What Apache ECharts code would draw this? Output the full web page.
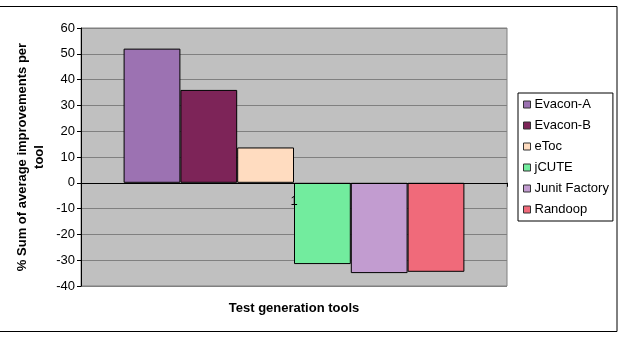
<!DOCTYPE html>
<html>
<head>
<meta charset="utf-8">
<script src="https://cdn.jsdelivr.net/npm/echarts@6/dist/echarts.min.js"></script>
<style>
  html, body { margin: 0; padding: 0; background: #fff; }
  #chart { width: 620px; height: 338px; }
</style>
</head>
<body>
<div id="chart"></div>
<script>
var categories = ['1'];
var toolNames = ['Evacon-A', 'Evacon-B', 'eToc', 'jCUTE', 'Junit Factory', 'Randoop'];
var toolValues = [52, 36, 13.7, -31.5, -35, -34.5];
var toolColors = ['#9c72b2', '#7d2458', '#ffdcc0', '#72ec9e', '#c29cd0', '#f06a7a'];
var yTicks = { min: -40, max: 60, interval: 10 };

var font = 'Liberation Sans, Arial, sans-serif';
var gridH = 258;
// distance from the plot bottom up to the zero line
var zeroLift = gridH * (0 - yTicks.min) / (yTicks.max - yTicks.min);

var series = [];
for (var i = 0; i < toolNames.length; i++) {
  series.push({
    name: toolNames[i],
    type: 'bar',
    data: [toolValues[i]],
    barGap: '0%',
    barCategoryGap: '20%',
    itemStyle: { color: toolColors[i], borderColor: '#000', borderWidth: 1 }
  });
}

var myChart = echarts.init(document.getElementById('chart'), null, { renderer: 'canvas' });
var option = {
  animation: false,
  textStyle: { fontFamily: font },
  graphic: [{
    type: 'rect',
    shape: { x: -2, y: 6.5, width: 619, height: 325 },
    style: { fill: 'none', stroke: '#000', lineWidth: 1 }
  }],
  grid: {
    left: 81, top: 28, width: 426, height: gridH,
    containLabel: false,
    outerBoundsMode: 'none',
    show: true,
    backgroundColor: '#c0c0c0',
    borderColor: '#808080',
    borderWidth: 1
  },
  legend: {
    orient: 'vertical',
    left: 518, top: 93,
    data: toolNames,
    icon: 'rect',
    itemWidth: 7, itemHeight: 7,
    itemGap: 8,
    itemStyle: { borderColor: '#333', borderWidth: 1 },
    padding: [5, 4, 5, 5],
    borderColor: '#000', borderWidth: 1,
    textStyle: { fontSize: 13, color: '#000', fontFamily: font, padding: [0, 0, 0, -1] }
  },
  xAxis: {
    type: 'category',
    data: categories,
    zlevel: 1,
    offset: -zeroLift,
    name: 'Test generation tools',
    nameLocation: 'middle',
    nameGap: zeroLift + 16,
    nameMoveOverlap: false,
    nameTextStyle: { fontSize: 13, fontWeight: 'bold', color: '#000', fontFamily: font },
    axisLine: { onZero: false, lineStyle: { color: '#000', width: 1 } },
    axisTick: { show: true, length: 4, lineStyle: { color: '#000' } },
    axisLabel: { fontSize: 13, color: '#000', margin: 12 },
    splitLine: { show: false }
  },
  yAxis: {
    type: 'value',
    min: yTicks.min, max: yTicks.max, interval: yTicks.interval,
    name: '% Sum of average improvements per\ntool',
    nameLocation: 'middle',
    nameRotate: 90,
    nameGap: 33,
    nameMoveOverlap: false,
    nameTextStyle: { fontSize: 13, fontWeight: 'bold', color: '#000', fontFamily: font, lineHeight: 17, align: 'center' },
    axisLine: { show: true, lineStyle: { color: '#000', width: 1 } },
    axisTick: { show: true, length: 4, inside: false, lineStyle: { color: '#000' } },
    axisLabel: { fontSize: 13, color: '#000', margin: 6 },
    splitLine: { show: true, lineStyle: { color: '#808080', width: 1 } }
  },
  series: series
};
myChart.setOption(option);
</script>
</body>
</html>
